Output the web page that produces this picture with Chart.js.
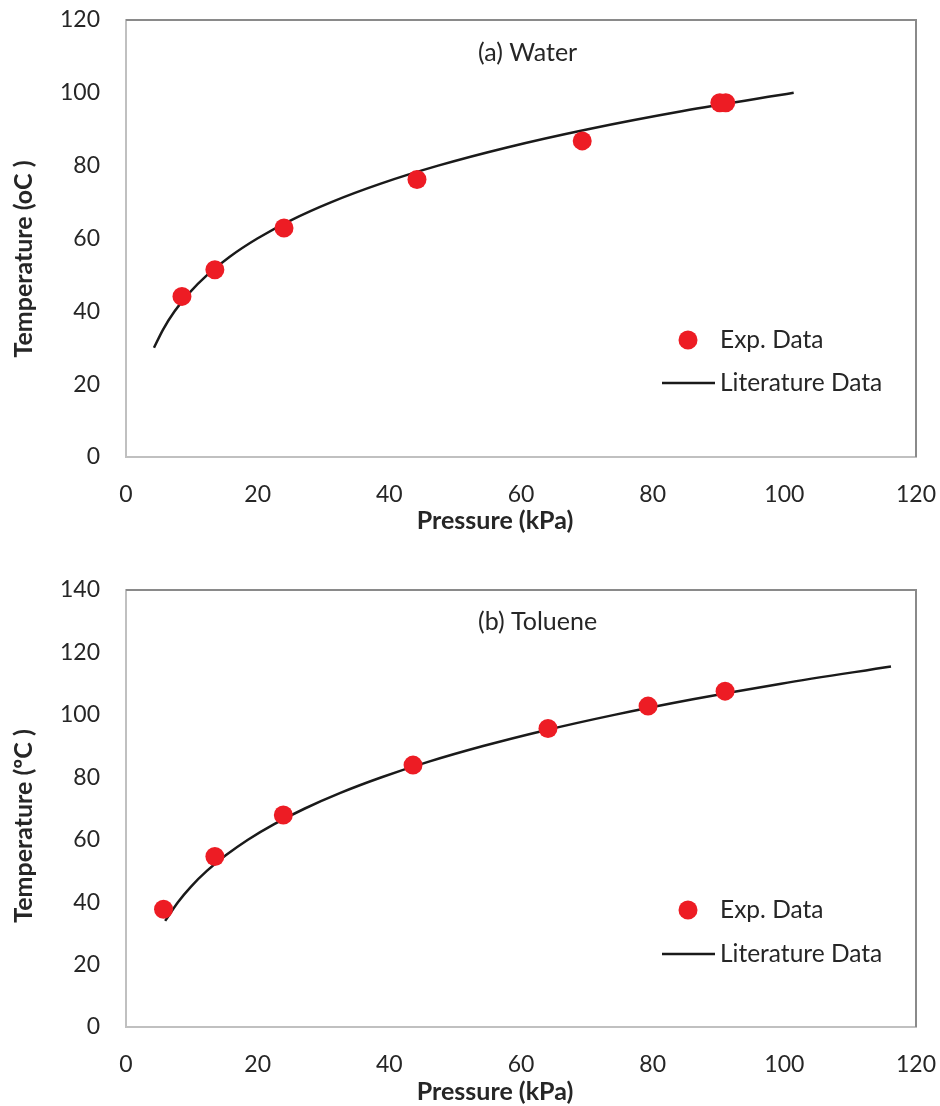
<!DOCTYPE html>
<html>
<head>
<meta charset="utf-8">
<script src="https://cdn.jsdelivr.net/npm/chart.js@4.4.1/dist/chart.umd.min.js"></script>
<style>
  html, body { margin: 0; padding: 0; background: #ffffff; }
  .panel { position: absolute; left: 0; width: 940px; height: 553px; }
  canvas { display: block; }
</style>
</head>
<body>
<div class="panel" style="top:0"><canvas id="waterChart" width="940" height="553"></canvas></div>
<div class="panel" style="top:553px"><canvas id="tolueneChart" width="940" height="553"></canvas></div>
<script>
// ---- data ----
// (a) Water: measured boiling points vs. pressure
const waterExpP = [8.5, 13.5, 24.0, 44.2, 69.3, 90.2, 91.1];
const waterExpT = [44.1, 51.4, 62.9, 76.2, 86.8, 97.3, 97.3];
// (a) Water: literature vapour-pressure curve
const waterLitP = [4.25, 5.63, 7.38, 9.59, 12.35, 15.76, 19.95, 25.04, 31.2, 38.59, 47.41, 57.87, 70.18, 84.61, 101.42];
const waterLitT = [30, 35, 40, 45, 50, 55, 60, 65, 70, 75, 80, 85, 90, 95, 100];

// (b) Toluene: measured boiling points vs. pressure
const tolueneExpP = [5.7, 13.5, 23.9, 43.6, 64.1, 79.3, 91.0];
const tolueneExpT = [37.7, 54.6, 67.9, 83.9, 95.6, 102.8, 107.6];
// (b) Toluene: literature vapour-pressure curve
const tolueneLitP = [5.95, 7.89, 9.88, 12.28, 15.15, 18.52, 22.51, 27.17, 32.57, 38.83, 46.01, 54.24, 63.58, 74.17, 86.11, 99.52, 116.2];
const tolueneLitT = [34, 40, 45, 50, 55, 60, 65, 70, 75, 80, 85, 90, 95, 100, 105, 110, 115.5];

// axis ranges / tick steps
const pressureRange = [0, 120];
const waterTempRange = [0, 120];
const tolueneTempRange = [0, 140];
const tickStep = 20;

// text
const seriesNames = ['Exp. Data', 'Literature Data'];
const xAxisTitle = 'Pressure (kPa)';
const waterYTitle = 'Temperature (oC )';
const tolueneYTitle = 'Temperature (\u00BAC )';
const waterPanelTitle = '(a) Water';
const toluenePanelTitle = '(b) Toluene';

// ---- styling ----
const FONT = "Lato, 'Open Sans', sans-serif";
const TEXT = '#262626';
const DOT = '#ED1C24';
const LINE = '#1a1a1a';

const pairs = (xs, ys) => xs.map((x, i) => ({ x: x, y: ys[i] }));

// Draws the plot frame (top/right), the in-plot caption, the inset legend and axis titles.
const panelDecor = {
  id: 'panelDecor',
  beforeDatasetsDraw(chart) {
    const { ctx, chartArea: a } = chart;
    ctx.save();
    ctx.strokeStyle = '#8a8a8a';
    ctx.lineWidth = 2;
    ctx.beginPath();
    ctx.moveTo(a.left, a.top);
    ctx.lineTo(a.right, a.top);
    ctx.lineTo(a.right, a.bottom);
    ctx.stroke();
    ctx.restore();
  },
  afterDraw(chart, args, o) {
    const { ctx } = chart;
    const ds = chart.data.datasets;
    ctx.save();
    ctx.fillStyle = TEXT;
    ctx.textBaseline = 'middle';
    ctx.textAlign = 'left';
    // caption inside the plot
    ctx.font = '25px ' + FONT;
    ctx.fillText(o.caption, o.captionX, o.captionY);
    // legend: marker entry
    ctx.font = '24.5px ' + FONT;
    ctx.fillStyle = ds[0].backgroundColor;
    ctx.beginPath();
    ctx.arc(o.legendX + 26, o.legendY1, ds[0].pointRadius, 0, Math.PI * 2);
    ctx.fill();
    ctx.fillStyle = TEXT;
    ctx.fillText(ds[0].label, o.legendX + 58, o.legendY1);
    // legend: line entry
    ctx.strokeStyle = ds[1].borderColor;
    ctx.lineWidth = ds[1].borderWidth;
    ctx.beginPath();
    ctx.moveTo(o.legendX, o.legendY2);
    ctx.lineTo(o.legendX + 53, o.legendY2);
    ctx.stroke();
    ctx.fillText(ds[1].label, o.legendX + 58, o.legendY2);
    // axis titles
    ctx.font = 'bold 25px ' + FONT;
    ctx.textAlign = 'center';
    ctx.fillText(o.xTitle, o.xTitleX, o.xTitleY);
    ctx.translate(o.yTitleX, o.yTitleY);
    ctx.rotate(-Math.PI / 2);
    ctx.fillText(o.yTitle, 0, 0);
    ctx.restore();
  }
};

function makePanel(canvasId, expP, expT, litP, litT, yRange, decor, topPad, xBoxHeight) {
  return new Chart(document.getElementById(canvasId), {
    type: 'scatter',
    data: {
      datasets: [
        {
          label: seriesNames[0],
          data: pairs(expP, expT),
          backgroundColor: DOT,
          borderColor: DOT,
          pointRadius: 9.5,
          pointBorderWidth: 0,
          showLine: false,
          order: 0
        },
        {
          label: seriesNames[1],
          data: pairs(litP, litT),
          borderColor: LINE,
          backgroundColor: LINE,
          borderWidth: 2.5,
          pointRadius: 0,
          showLine: true,
          tension: 0.4,
          cubicInterpolationMode: 'monotone',
          order: 1
        }
      ]
    },
    options: {
      responsive: false,
      animation: false,
      devicePixelRatio: 1,
      layout: { padding: { top: topPad, right: 24, left: 0, bottom: 0 } },
      plugins: {
        legend: { display: false },
        tooltip: { enabled: false },
        panelDecor: decor
      },
      scales: {
        x: {
          type: 'linear',
          min: pressureRange[0],
          max: pressureRange[1],
          grid: { display: false },
          border: { display: true, color: '#c0c0c0', width: 2 },
          ticks: { stepSize: tickStep, padding: 16, color: TEXT, font: { family: FONT, size: 23 } },
          afterFit(scale) {
            scale.height = xBoxHeight;
            scale.paddingLeft = 0;
            scale.paddingRight = 0;
          }
        },
        y: {
          type: 'linear',
          min: yRange[0],
          max: yRange[1],
          grid: { display: false },
          border: { display: true, color: '#c0c0c0', width: 2 },
          ticks: { stepSize: tickStep, padding: 18, color: TEXT, font: { family: FONT, size: 23 } },
          afterFit(scale) {
            scale.width = 126;
            scale.paddingTop = 0;
            scale.paddingBottom = 0;
          }
        }
      }
    },
    plugins: [panelDecor]
  });
}

makePanel('waterChart', waterExpP, waterExpT, waterLitP, waterLitT, waterTempRange, {
  caption: waterPanelTitle, captionX: 478, captionY: 53,
  legendX: 662, legendY1: 340, legendY2: 383,
  xTitle: xAxisTitle, xTitleX: 495, xTitleY: 521,
  yTitle: waterYTitle, yTitleX: 24, yTitleY: 259
}, 20, 96);

makePanel('tolueneChart', tolueneExpP, tolueneExpT, tolueneLitP, tolueneLitT, tolueneTempRange, {
  caption: toluenePanelTitle, captionX: 478, captionY: 69,
  legendX: 662, legendY1: 357, legendY2: 401,
  xTitle: xAxisTitle, xTitleX: 495, xTitleY: 539,
  yTitle: tolueneYTitle, yTitleX: 24, yTitleY: 273
}, 37, 79);
</script>
</body>
</html>
